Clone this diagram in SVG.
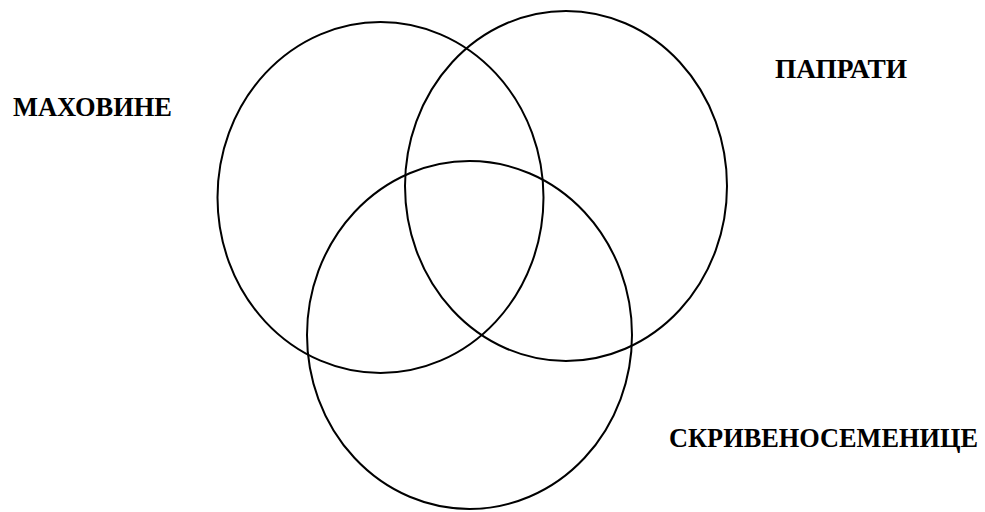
<svg xmlns="http://www.w3.org/2000/svg" width="985" height="512" viewBox="0 0 985 512">
<style>
.c{fill:none;stroke:#000;stroke-width:2}
.t{font-family:"Liberation Serif","Times New Roman",serif;font-weight:bold;font-size:26.5px;fill:#000}
</style>
<rect width="985" height="512" fill="#fff"/>
<g id="moss"><ellipse class="c" cx="380.5" cy="197.5" rx="163" ry="175.5"/><text class="t" x="13" y="116" textLength="159" lengthAdjust="spacingAndGlyphs">МАХОВИНЕ</text></g>
<g id="ferns"><ellipse class="c" cx="566" cy="186" rx="161" ry="175"/><text class="t" x="775" y="78" textLength="132" lengthAdjust="spacingAndGlyphs">ПАПРАТИ</text></g>
<g id="angiosperms"><ellipse class="c" cx="469.5" cy="335" rx="162.5" ry="174"/><text class="t" x="669" y="447" textLength="309" lengthAdjust="spacingAndGlyphs">СКРИВЕНОСЕМЕНИЦЕ</text></g>
<g id="connectors"/>
</svg>
